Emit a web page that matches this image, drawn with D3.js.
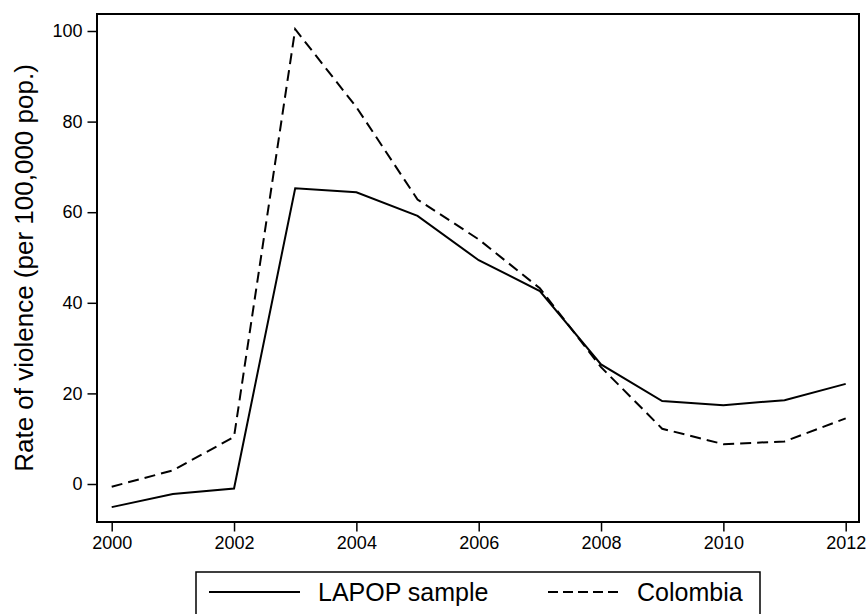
<!DOCTYPE html>
<html>
<head>
<meta charset="utf-8">
<script src="https://cdn.jsdelivr.net/npm/d3@7"></script>
<style>
  html, body { margin: 0; padding: 0; background: #fff; }
  svg { display: block; font-family: "Liberation Sans", Arial, Helvetica, sans-serif; }
</style>
</head>
<body>
<svg id="chart" width="868" height="614"></svg>
<script>
const years = [2000, 2001, 2002, 2003, 2004, 2005, 2006, 2007, 2008, 2009, 2010, 2011, 2012];
const lapopSample = [-5.1, -2.2, -1.0, 65.3, 64.4, 59.2, 49.4, 42.6, 26.4, 18.3, 17.4, 18.5, 22.1];
const colombia = [-0.6, 3.0, 10.4, 100.4, 83.2, 62.8, 54.0, 43.2, 25.8, 12.2, 8.8, 9.4, 14.5];
const yTicks = [0, 20, 40, 60, 80, 100];
const xTicks = [2000, 2002, 2004, 2006, 2008, 2010, 2012];
const seriesNames = ["LAPOP sample", "Colombia"];
const yTitle = "Rate of violence (per 100,000 pop.)";

const svg = d3.select("#chart");
const frame = { left: 97, right: 859, top: 14, bottom: 522 };

const x = d3.scaleLinear().domain([2000, 2012]).range([111.7, 845.7]);
const y = d3.scaleLinear().domain([0, 100]).range([484, 31]);

// frame
svg.append("rect")
  .attr("x", frame.left).attr("y", frame.top)
  .attr("width", frame.right - frame.left).attr("height", frame.bottom - frame.top)
  .attr("fill", "none").attr("stroke", "#000").attr("stroke-width", 2);

// y axis
const yAxis = d3.axisLeft(y).tickValues(yTicks).tickSize(9.5).tickPadding(5).tickFormat(d3.format("d"));
const gy = svg.append("g").attr("transform", `translate(${frame.left},0)`).call(yAxis);
gy.select(".domain").remove();
gy.selectAll(".tick line").attr("stroke", "#000").attr("stroke-width", 1.5);
gy.selectAll(".tick text").attr("font-size", 18).attr("fill", "#000")
  .attr("font-family", "'Liberation Sans', Arial, sans-serif");

// x axis
const xAxis = d3.axisBottom(x).tickValues(xTicks).tickSize(9.5).tickPadding(5).tickFormat(d3.format("d"));
const gx = svg.append("g").attr("transform", `translate(0,${frame.bottom})`).call(xAxis);
gx.select(".domain").remove();
gx.selectAll(".tick line").attr("stroke", "#000").attr("stroke-width", 1.5);
gx.selectAll(".tick text").attr("font-size", 18).attr("fill", "#000")
  .attr("font-family", "'Liberation Sans', Arial, sans-serif");

// y title
svg.append("text")
  .attr("transform", `translate(33,${(frame.top + frame.bottom) / 2}) rotate(-90)`)
  .attr("text-anchor", "middle")
  .attr("font-size", 26)
  .attr("fill", "#000")
  .text(yTitle);

// lines
const line = d3.line().x((d, i) => x(years[i])).y(d => y(d));
svg.append("path").datum(colombia)
  .attr("d", line).attr("fill", "none").attr("stroke", "#000")
  .attr("stroke-width", 2).attr("stroke-dasharray", "11,6");
svg.append("path").datum(lapopSample)
  .attr("d", line).attr("fill", "none").attr("stroke", "#000")
  .attr("stroke-width", 2);

// legend
const lg = svg.append("g");
lg.append("rect").attr("x", 196).attr("y", 572).attr("width", 564).attr("height", 50)
  .attr("fill", "#fff").attr("stroke", "#000").attr("stroke-width", 1.5);
lg.append("line").attr("x1", 209).attr("x2", 300).attr("y1", 592).attr("y2", 592)
  .attr("stroke", "#000").attr("stroke-width", 2);
lg.append("text").attr("x", 318).attr("y", 601).attr("font-size", 25).attr("fill", "#000").text(seriesNames[0]);
lg.append("line").attr("x1", 548).attr("x2", 619).attr("y1", 592).attr("y2", 592)
  .attr("stroke", "#000").attr("stroke-width", 2).attr("stroke-dasharray", "10,5");
lg.append("text").attr("x", 637).attr("y", 601).attr("font-size", 25).attr("fill", "#000").text(seriesNames[1]);
</script>
</body>
</html>
